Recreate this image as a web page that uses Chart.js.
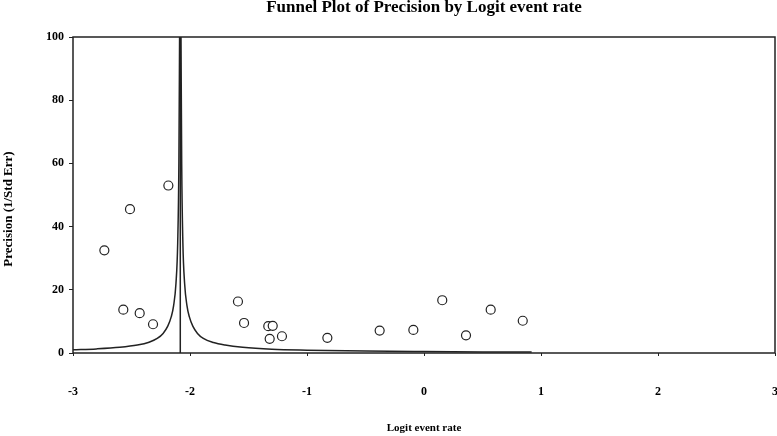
<html>
<head>
<meta charset="utf-8">
<script src="https://cdn.jsdelivr.net/npm/chart.js@4.4.1/dist/chart.umd.min.js"></script>
<style>
  body { margin: 0; background: #fff; }
  #wrap { width: 777px; height: 436px; }
</style>
</head>
<body>
<div id="wrap"><canvas id="funnel"></canvas></div>
<script>
// studies (logit event rate, precision)
var studyLogit = [-2.185, -2.513, -2.732, -2.570, -2.430, -2.316, -1.590, -1.538,
                  -1.331, -1.293, -1.319, -1.214, -0.826, -0.379, -0.091, 0.156,
                  0.359, 0.570, 0.844];
var studyPrecision = [53.0, 45.5, 32.5, 13.7, 12.6, 9.1, 16.3, 9.5,
                      8.5, 8.6, 4.5, 5.3, 4.8, 7.1, 7.3, 16.7,
                      5.6, 13.7, 10.2];

// funnel limits
var funnelLeftX = [-3.0, -2.8, -2.6, -2.45, -2.35, -2.28, -2.23, -2.19, -2.16, -2.14, -2.12, -2.105, -2.095, -2.089];
var funnelLeftY = [1.0, 1.3, 1.8, 2.5, 3.4, 4.6, 6.2, 8.5, 11.5, 15, 22, 35, 60, 100];
var funnelRightX = [-2.077, -2.071, -2.061, -2.046, -2.026, -2.006, -1.976, -1.936, -1.886, -1.8, -1.7, -1.55, -1.3, -1.0, -0.5, 0.0, 0.5, 0.92];
var funnelRightY = [100, 60, 35, 22, 15, 11.5, 8.5, 6.2, 4.6, 3.3, 2.5, 1.8, 1.2, 0.9, 0.6, 0.45, 0.35, 0.3];

var meanLogit = -2.083;
var meanLineY = [0, 100];
var diamondY = -3;

var xTicks = [-3, -2, -1, 0, 1, 2, 3];
var yTicks = [0, 20, 40, 60, 80, 100];

var ink = '#222';
var serif = "'Liberation Serif', 'Times New Roman', serif";

function pairs(xs, ys) {
  return xs.map(function(x, i) { return {x: x, y: ys[i]}; });
}

// narrow diamond marker
var diamond = document.createElement('canvas');
diamond.width = 7; diamond.height = 11;
(function() {
  var c = diamond.getContext('2d');
  c.strokeStyle = ink; c.lineWidth = 1.1;
  c.beginPath();
  c.moveTo(3.5, 1); c.lineTo(6, 5.5); c.lineTo(3.5, 10); c.lineTo(1, 5.5); c.closePath();
  c.stroke();
})();

var frame = {
  id: 'frame',
  afterDraw: function(chart) {
    var a = chart.chartArea, ctx = chart.ctx;
    ctx.save();
    ctx.strokeStyle = ink;
    ctx.lineWidth = 1.5;
    ctx.strokeRect(a.left, a.top, a.right - a.left, a.bottom - a.top);
    ctx.fillStyle = '#000';
    ctx.font = 'bold 17px ' + serif;
    ctx.textAlign = 'center';
    ctx.textBaseline = 'alphabetic';
    ctx.fillText('Funnel Plot of Precision by Logit event rate', (a.left + a.right) / 2, 12);
    // y title sits a little below the middle of the axis
    ctx.translate(9, 209);
    ctx.rotate(-Math.PI / 2);
    ctx.textBaseline = 'middle';
    ctx.font = 'bold 13px ' + serif;
    ctx.fillText('Precision (1/Std Err)', 0, 0);
    ctx.restore();
  }
};

var ctx = document.getElementById('funnel').getContext('2d');
var chart = new Chart(ctx, {
  type: 'scatter',
  data: {
    datasets: [{
      label: 'Studies',
      data: pairs(studyLogit, studyPrecision),
      pointStyle: 'circle',
      pointRadius: 4.5,
      pointBorderWidth: 1.2,
      borderColor: ink,
      backgroundColor: '#fff'
    }, {
      label: 'Lower limit',
      data: pairs(funnelLeftX, funnelLeftY),
      showLine: true,
      pointRadius: 0,
      borderColor: ink,
      borderWidth: 1.5,
      cubicInterpolationMode: 'monotone'
    }, {
      label: 'Upper limit',
      data: pairs(funnelRightX, funnelRightY),
      showLine: true,
      pointRadius: 0,
      borderColor: ink,
      borderWidth: 1.5,
      cubicInterpolationMode: 'monotone'
    }, {
      label: 'Mean',
      data: pairs([meanLogit, meanLogit], meanLineY),
      showLine: true,
      pointRadius: 0,
      borderColor: ink,
      borderWidth: 1.5
    }, {
      label: 'Summary',
      data: [{x: meanLogit, y: diamondY}],
      pointStyle: diamond,
      clip: false
    }]
  },
  options: {
    responsive: true,
    maintainAspectRatio: false,
    animation: false,
    layout: { autoPadding: false, padding: { top: 37, right: 2, left: 0, bottom: 0 } },
    plugins: {
      legend: { display: false },
      tooltip: { enabled: false }
    },
    scales: {
      x: {
        type: 'linear',
        min: -3, max: 3,
        afterBuildTicks: function(s) { s.ticks = xTicks.map(function(v) { return {value: v}; }); },
        afterFit: function(s) { s.height = 83; s.paddingLeft = 0; s.paddingRight = 0; },
        grid: { drawOnChartArea: false, tickLength: 3, color: ink },
        border: { display: false },
        ticks: { color: '#000', padding: 29, font: { family: serif, weight: 'bold', size: 12 } },
        title: { display: true, text: 'Logit event rate', color: '#000', padding: { top: 0, bottom: 1 },
                 font: { family: serif, weight: 'bold', size: 11 } }
      },
      y: {
        min: 0, max: 100,
        afterBuildTicks: function(s) { s.ticks = yTicks.map(function(v) { return {value: v}; }); },
        afterFit: function(s) { s.width = 73; },
        grid: { drawOnChartArea: false, tickLength: 4, color: ink },
        border: { display: false },
        ticks: { color: '#000', padding: 5, font: { family: serif, weight: 'bold', size: 12 } }
      }
    }
  },
  plugins: [frame]
});
</script>
</body>
</html>
